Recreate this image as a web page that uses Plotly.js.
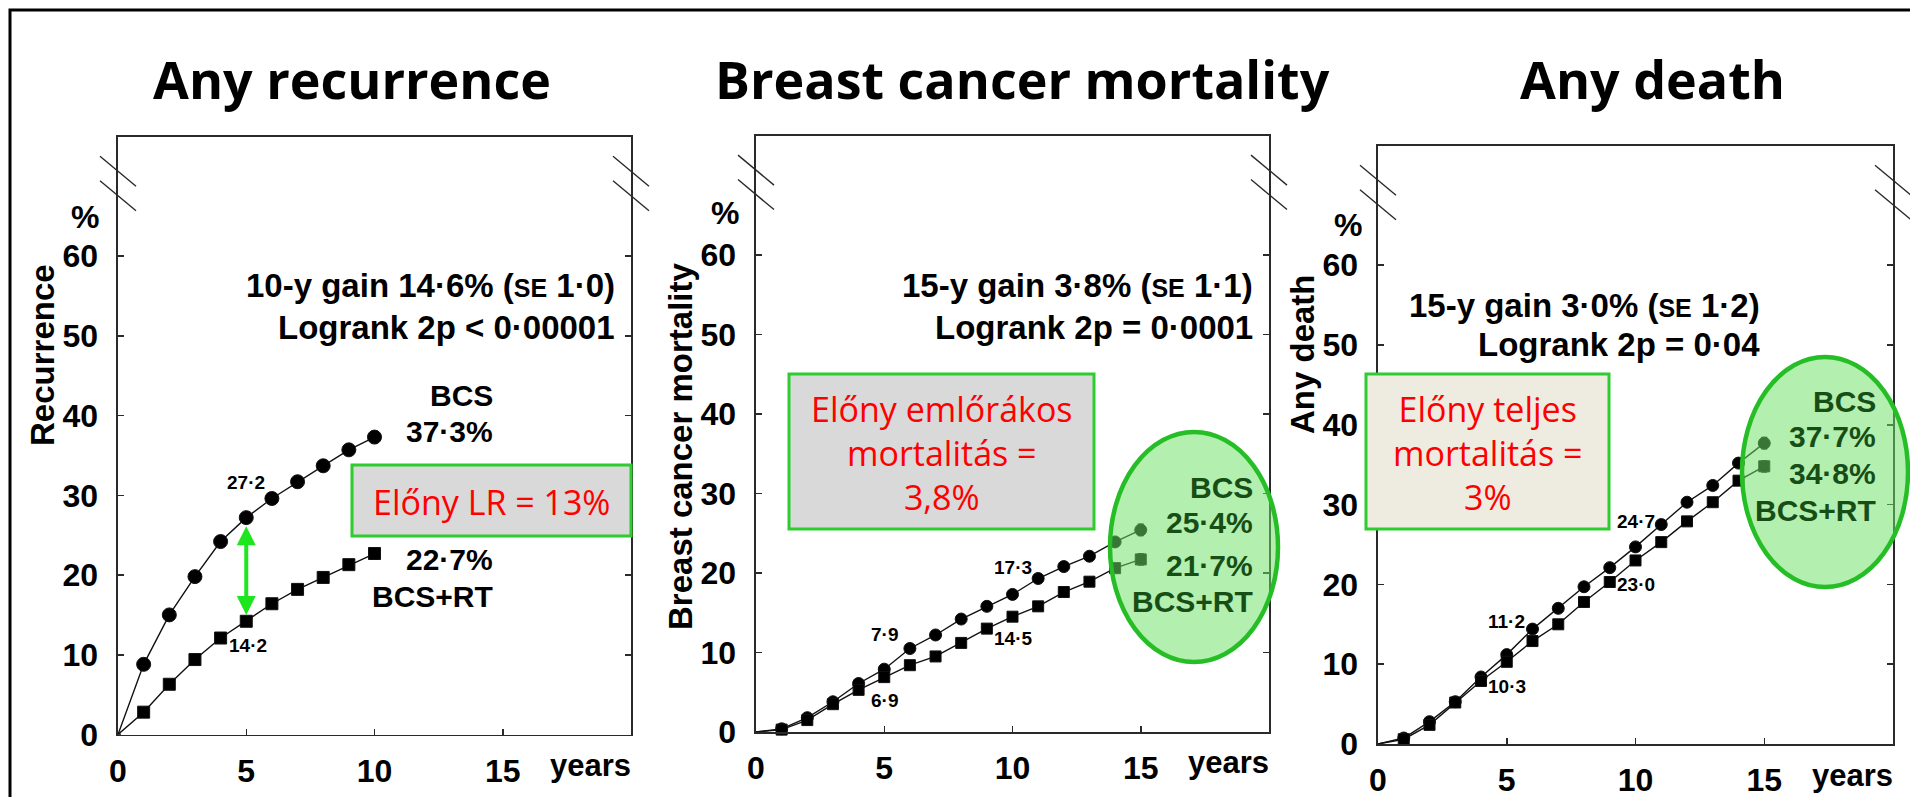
<!DOCTYPE html>
<html><head><meta charset="utf-8">
<script src="https://cdn.plot.ly/plotly-3.0.1.min.js"></script>
<style>html,body{margin:0;padding:0;background:#fff}</style>
</head><body>
<div id="chart" style="width:1910px;height:797px"></div>
<script>
// ---------- data ----------
const yearsRecurrence = [0,1,2,3,4,5,6,7,8,9,10];
const recurrenceBCS   = [0, 8.8, 15.0, 19.8, 24.2, 27.2, 29.6, 31.7, 33.7, 35.7, 37.3];
const recurrenceBCSRT = [0, 2.8, 6.3, 9.4, 12.1, 14.2, 16.4, 18.2, 19.7, 21.3, 22.7];

const yearsMortality = [0,1,2,3,4,5,6,7,8,9,10,11,12,13,14,15];
const bcMortBCS   = [0, 0.4, 1.8, 3.8, 6.1, 7.9, 10.5, 12.2, 14.2, 15.8, 17.3, 19.3, 20.8, 22.1, 23.9, 25.4];
const bcMortBCSRT = [0, 0.3, 1.5, 3.5, 5.3, 6.9, 8.4, 9.5, 11.2, 13.0, 14.5, 15.8, 17.6, 18.9, 20.6, 21.7];

const yearsDeath = [0,1,2,3,4,5,6,7,8,9,10,11,12,13,14,15];
const deathBCS   = [0, 0.75, 2.8, 5.3, 8.4, 11.2, 14.4, 17.0, 19.7, 22.1, 24.7, 27.5, 30.3, 32.4, 35.2, 37.7];
const deathBCSRT = [0, 0.6, 2.4, 5.2, 7.9, 10.3, 12.9, 15.0, 17.8, 20.3, 23.0, 25.3, 27.9, 30.3, 33.0, 34.8];

const endSE = [0.7, 0.7, 0.7];   // standard-error bar at the last point of each panel

const xTickVals = [0, 5, 10, 15];
const yTickVals = [0, 10, 20, 30, 40, 50, 60];
const panelTitles = ['Any recurrence', 'Breast cancer mortality', 'Any death'];
const yTitles = ['Recurrence', 'Breast cancer mortality', 'Any death'];
const statLines = [
  ['10-y gain 14·6% (<span style="font-size:25px">SE</span> 1·0)', 'Logrank 2p &lt; 0·00001'],
  ['15-y gain 3·8% (<span style="font-size:25px">SE</span> 1·1)', 'Logrank 2p = 0·0001'],
  ['15-y gain 3·0% (<span style="font-size:25px">SE</span> 1·2)', 'Logrank 2p = 0·04']
];
const endLabels = [
  ['BCS', '37·3%', '22·7%', 'BCS+RT'],
  ['BCS', '25·4%', '21·7%', 'BCS+RT'],
  ['BCS', '37·7%', '34·8%', 'BCS+RT']
];
const pointLabels = [
  [['27·2', 5, 31.6], ['14·2', 5.05, 11.2]],
  [['7·9', 5, 12.2], ['6·9', 5, 4.0], ['17·3', 10, 20.7], ['14·5', 10, 11.8]],
  [['11·2', 5, 15.4], ['10·3', 5, 7.25], ['24·7', 10, 27.9], ['23·0', 10, 20.0]]
];
const boxLines = [
  ['Előny LR = 13%'],
  ['Előny emlőrákos', 'mortalitás =', '3,8%'],
  ['Előny teljes', 'mortalitás =', '3%']
];

// ---------- geometry (pixels) ----------
const W = 1910, H = 797;
const panels = [
  {left:118,  right:631,  top:136.5, bottom:734.5},
  {left:756,  right:1269, top:135.5, bottom:732},
  {left:1378, right:1893, top:145.5, bottom:744}
];
const px = v => v / W;
const py = v => 1 - v / H;
const xr = i => i === 0 ? 'x' : 'x' + (i + 1);
const yr = i => i === 0 ? 'y' : 'y' + (i + 1);

const boldSans = 'Liberation Sans, Arial, Helvetica, sans-serif';
const tickFont = {family: boldSans, size: 32, color: '#000', weight: 700};
const lineCol = '#2a2a2a';

// ---------- traces ----------
function series(xs, ys, sym, i, size) {
  const last = ys.length - 1;
  return {
    type: 'scatter', mode: 'lines+markers', x: xs, y: ys,
    xaxis: xr(i), yaxis: yr(i),
    line: {color: '#111', width: 1.4},
    marker: {symbol: sym, color: '#000', opacity: 1, size: xs.map(v => v === 0 ? 0 : size)},
    error_y: {type: 'data', array: ys.map((v, k) => k === last ? endSE[i] : 0),
              visible: true, color: '#111', thickness: 1.6, width: 3},
    showlegend: false, hoverinfo: 'skip', cliponaxis: false
  };
}
const traces = [
  series(yearsRecurrence, recurrenceBCS, 'circle', 0, 14),
  series(yearsRecurrence, recurrenceBCSRT, 'square', 0, 12),
  series(yearsMortality, bcMortBCS, 'circle', 1, 12),
  series(yearsMortality, bcMortBCSRT, 'square', 1, 11),
  series(yearsDeath, deathBCS, 'circle', 2, 12),
  series(yearsDeath, deathBCSRT, 'square', 2, 11)
];

// ---------- axes ----------
const layout = {
  width: W, height: H, margin: {l:0, r:0, t:0, b:0},
  paper_bgcolor: '#fff', plot_bgcolor: 'rgba(0,0,0,0)',
  showlegend: false, annotations: [], shapes: []
};
panels.forEach((p, i) => {
  layout[i === 0 ? 'xaxis' : 'xaxis' + (i + 1)] = {
    domain: [px(p.left), px(p.right)], anchor: yr(i), range: [0, 20],
    tickmode: 'array', tickvals: xTickVals, ticks: 'inside', ticklen: 6, tickwidth: 1.5,
    tickcolor: lineCol, showline: true, linecolor: lineCol, linewidth: 1.6, mirror: true,
    showgrid: false, zeroline: false, tickfont: tickFont, ticklabelstandoff: 7, fixedrange: true
  };
  layout[i === 0 ? 'yaxis' : 'yaxis' + (i + 1)] = {
    domain: [py(p.bottom), py(p.top)], anchor: xr(i), range: [0, 75],
    tickmode: 'array', tickvals: yTickVals, ticks: 'inside', ticklen: 6, tickwidth: 1.5,
    tickcolor: lineCol, showline: true, linecolor: lineCol, linewidth: 1.6, mirror: 'ticks',
    showgrid: false, zeroline: false, tickfont: tickFont, ticklabelstandoff: 12, fixedrange: true
  };
});

// ---------- annotations ----------
const A = layout.annotations, S = layout.shapes;
function paperText(x, y, text, font, extra) {
  A.push(Object.assign({xref:'paper', yref:'paper', x: px(x), y: py(y), text, showarrow:false,
    font, xanchor:'center', yanchor:'middle'}, extra || {}));
}
function dataText(i, x, y, text, font, extra) {
  A.push(Object.assign({xref: xr(i), yref: yr(i), x, y, text, showarrow:false,
    font, xanchor:'center', yanchor:'middle'}, extra || {}));
}

// panel titles
const titleFont = {family:'Open Sans, Lato, sans-serif', size:52, color:'#000', weight:700};
const titleX = [352, 1022, 1652];
panelTitles.forEach((t, i) => paperText(titleX[i], 79, t, titleFont));

// y-axis titles (rotated)
const yTitleFont = {family: boldSans, size: 33, color:'#000', weight:700};
const yTitlePos = [[42, 355], [680, 447], [1302, 354]];
yTitles.forEach((t, i) => paperText(yTitlePos[i][0], yTitlePos[i][1], t, yTitleFont, {textangle:-90}));

// "%" above the 60 tick and "years" after 15
const pctPos = [[101, 217], [741, 213], [1364, 225]];
const yearsY = [765, 762, 775];
panels.forEach((p, i) => {
  paperText(pctPos[i][0], pctPos[i][1], '%', tickFont, {xanchor:'right'});
  paperText(p.right + 2, yearsY[i], 'years', {family: boldSans, size: 31, color:'#000', weight:700}, {xanchor:'right'});
});

// statistics text
const statFont = {family: boldSans, size: 33, color:'#000', weight:700};
const statPos = [[19.45, 56.3, 51.0], [19.45, 56.1, 50.8], [14.9, 55.0, 50.0]];
statLines.forEach((ls, i) => {
  dataText(i, statPos[i][0], statPos[i][1], ls[0], statFont, {xanchor:'right'});
  dataText(i, statPos[i][0], statPos[i][2], ls[1], statFont, {xanchor:'right'});
});

// end-of-curve labels
const endFont = {family: boldSans, size: 30, color:'#000', weight:700};
const greenText = 'rgb(22,78,22)';
const endPos = [
  {x:14.68, ys:[42.5, 38.0, 21.9, 17.3], color:'#000'},
  {x:19.45, ys:[30.8, 26.3, 20.9, 16.4], color:greenText},
  {x:19.4,  ys:[42.9, 38.5, 33.9, 29.2], color:greenText}
];
endLabels.forEach((ls, i) => ls.forEach((t, k) =>
  dataText(i, endPos[i].x, endPos[i].ys[k], t, Object.assign({}, endFont, {color:endPos[i].color}),
           {xanchor:'right'})));

// value labels beside points
const smallFont = {family: boldSans, size: 19, color:'#000', weight:700};
pointLabels.forEach((ls, i) => ls.forEach(l => dataText(i, l[1], l[2], l[0], smallFont)));

// red text boxes
const boxes = [
  {x0:352, x1:631, y0:465, y1:536, fill:'#d9d9d9', cy:502},
  {x0:789, x1:1094, y0:374, y1:529, fill:'#d9d9d9', cy:453},
  {x0:1366, x1:1609, y0:374, y1:529, fill:'#eeece1', cy:453}
];
const boxFont = {family:'Open Sans, Lato, sans-serif', size:34, color:'#ff0000'};
boxes.forEach((b, i) => {
  S.push({type:'rect', xref:'paper', yref:'paper', x0:px(b.x0), x1:px(b.x1), y0:py(b.y1), y1:py(b.y0),
          fillcolor:b.fill, line:{color:'#2ecc2e', width:3}, layer:'above'});
  paperText((b.x0 + b.x1) / 2, b.cy, boxLines[i].join('<br>'), boxFont);
});

// green ellipses
const ellipses = [
  {x0:1110, x1:1278, y0:432, y1:662},
  {x0:1742, x1:1908, y0:357, y1:587}
];
ellipses.forEach(e => S.push({type:'circle', xref:'paper', yref:'paper',
  x0:px(e.x0), x1:px(e.x1), y0:py(e.y1), y1:py(e.y0),
  fillcolor:'rgba(110,225,100,0.52)', line:{color:'rgb(38,190,38)', width:4.5}, layer:'above'}));

// axis break marks (left and right axis near the top)
const breakY = [0.901, 0.942];
panels.forEach((p, i) => {
  const dx = 18 / (p.right - p.left), dy = 15 / (p.bottom - p.top);
  [0, 1].forEach(side => breakY.forEach(by => S.push({type:'line',
    xref: xr(i) + ' domain', yref: yr(i) + ' domain',
    x0: side - dx, y0: by + dy, x1: side + dx, y1: by - dy,
    line:{color:lineCol, width:1.4}, layer:'above'})));
});

// green double arrow in panel 1 (between the two curves at 5 years)
A.push({xref:'x', yref:'y', axref:'x', ayref:'y', x:5, y:recurrenceBCSRT[5] + 0.8,
  ax:5, ay:recurrenceBCS[5] - 0.9, text:'', showarrow:true,
  arrowhead:2, startarrowhead:2, arrowside:'end+start', arrowsize:0.95, startarrowsize:0.95,
  arrowwidth:4, arrowcolor:'#1ee61e', standoff:0, startstandoff:0});

// outer slide border (top and left visible)
S.push({type:'rect', xref:'paper', yref:'paper', x0:px(10), x1:1.02, y0:-0.02, y1:py(10),
        line:{color:'#000', width:3}, fillcolor:'rgba(0,0,0,0)', layer:'above'});

Plotly.newPlot('chart', traces, layout, {staticPlot:true, displayModeBar:false});
</script>
</body></html>
